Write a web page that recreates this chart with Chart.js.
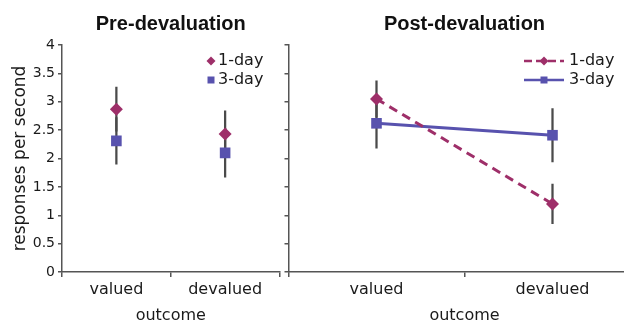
<!DOCTYPE html>
<html>
<head>
<meta charset="utf-8">
<script src="https://cdn.jsdelivr.net/npm/chart.js@4.4.0/dist/chart.umd.min.js"></script>
<style>
  html, body { margin: 0; padding: 0; background: #fff; }
  #wrap { position: relative; width: 624px; height: 324px; overflow: hidden; }
  #pre { position: absolute; left: 0; top: 0; }
  #post { position: absolute; left: 281px; top: 0; }
</style>
</head>
<body>
<div id="wrap">
  <canvas id="pre" width="287" height="324"></canvas>
  <canvas id="post" width="367" height="324"></canvas>
</div>
<script>
// Data
const categories = ['valued', 'devalued'];
const seriesNames = ['1-day', '3-day'];

const preOneDay = [2.87, 2.43];
const preOneDayErr = [0.39, 0.41];
const preThreeDay = [2.31, 2.10];
const preThreeDayErr = [0.41, 0.43];

const postOneDay = [3.05, 1.20];
const postOneDayErr = [0.32, 0.35];
const postThreeDay = [2.62, 2.41];
const postThreeDayErr = [0.44, 0.47];

const yMin = 0;
const yMax = 4;
const yStep = 0.5;

// Styling
const ONE_DAY = '#9e2f69';
const THREE_DAY = '#5852ae';
const AXIS = '#555555';
const ERR = '#4a4a4a';
const TEXT = '#1a1a1a';
const FONT = 'DejaVu Sans';

function errRange(values, errs) {
    return values.map((v, i) => [v - errs[i], v + errs[i]]);
}

function errorDataset(values, errs) {
    return {
        type: 'bar',
        data: errRange(values, errs),
        backgroundColor: ERR,
        borderWidth: 0,
        barThickness: 1.6,
        grouped: false,
        order: 3
    };
}

function seriesDataset(idx, values, showLine) {
    const oneDay = idx === 0;
    return {
        label: seriesNames[idx],
        data: values,
        borderColor: oneDay ? ONE_DAY : THREE_DAY,
        backgroundColor: oneDay ? ONE_DAY : THREE_DAY,
        borderWidth: 3,
        borderDash: oneDay ? [9, 6] : [],
        showLine: showLine,
        pointStyle: oneDay ? 'rectRot' : 'rect',
        pointRadius: oneDay ? 6.5 : 7.5,
        pointBorderWidth: 0,
        order: oneDay ? 1 : 2
    };
}

// small legend drawn in the top right of each panel
const panelLegend = {
    id: 'panelLegend',
    afterDraw(chart, args, opts) {
        const ctx = chart.ctx;
        const series = chart.data.datasets.filter(ds => ds.label);
        ctx.save();
        series.forEach((ds, i) => {
            const y = opts.y + i * opts.rowGap;
            if (opts.withLine) {
                ctx.beginPath();
                ctx.setLineDash(ds.borderDash.length ? [8, 4] : []);
                ctx.strokeStyle = ds.borderColor;
                ctx.lineWidth = 2.5;
                ctx.moveTo(opts.x - opts.lineHalf, y);
                ctx.lineTo(opts.x + opts.lineHalf, y);
                ctx.stroke();
                ctx.setLineDash([]);
            }
            ctx.fillStyle = ds.backgroundColor;
            ctx.beginPath();
            if (ds.pointStyle === 'rectRot') {
                const r = 4.5;
                ctx.moveTo(opts.x, y - r);
                ctx.lineTo(opts.x + r, y);
                ctx.lineTo(opts.x, y + r);
                ctx.lineTo(opts.x - r, y);
                ctx.closePath();
            } else {
                ctx.rect(opts.x - 3.5, y - 3.5, 7, 7);
            }
            ctx.fill();
            ctx.font = '16px "' + FONT + '"';
            ctx.fillStyle = TEXT;
            ctx.textBaseline = 'middle';
            ctx.textAlign = 'left';
            ctx.fillText(ds.label, opts.textX, y);
        });
        ctx.restore();
    }
};

function panelOptions(title, isLeft, legendOpts) {
    return {
        responsive: false,
        animation: false,
        layout: { padding: { left: 0, right: 2, top: 0, bottom: 0 } },
        plugins: {
            legend: { display: false },
            tooltip: { enabled: false },
            title: {
                display: true,
                text: title,
                fullSize: false,
                color: '#111',
                font: { family: 'Liberation Sans', size: 20, weight: 'bold', lineHeight: 1.2 },
                padding: { top: 12, bottom: 9 }
            },
            panelLegend: legendOpts
        },
        scales: {
            x: {
                type: 'category',
                offset: true,
                grid: { offset: true, drawOnChartArea: false, drawTicks: true, tickLength: 5, color: AXIS, lineWidth: 1.5 },
                border: { color: AXIS, width: 1.5 },
                ticks: { color: TEXT, font: { family: FONT, size: 16 }, padding: 3, maxRotation: 0 },
                title: {
                    display: true,
                    text: 'outcome',
                    color: TEXT,
                    font: { family: FONT, size: 16, lineHeight: 1 },
                    padding: { top: 0, bottom: 0 }
                },
                afterFit: scale => { scale.height = 52; }
            },
            y: {
                min: yMin,
                max: yMax,
                grid: { drawOnChartArea: false, drawTicks: true, tickLength: 4, color: AXIS, lineWidth: 1.5 },
                border: { color: AXIS, width: 1.5 },
                ticks: {
                    display: isLeft,
                    stepSize: yStep,
                    color: TEXT,
                    font: { family: FONT, size: 14 },
                    padding: 3,
                    callback: value => String(value)
                },
                title: {
                    display: isLeft,
                    text: 'responses per second',
                    color: TEXT,
                    font: { family: FONT, size: 17, lineHeight: 1 },
                    padding: { top: 12, bottom: 0 }
                },
                afterFit: scale => { scale.width = isLeft ? 62 : 4; }
            }
        }
    };
}

new Chart(document.getElementById('pre').getContext('2d'), {
    type: 'line',
    data: {
        labels: categories,
        datasets: [
            seriesDataset(0, preOneDay, false),
            seriesDataset(1, preThreeDay, false),
            errorDataset(preOneDay, preOneDayErr),
            errorDataset(preThreeDay, preThreeDayErr)
        ]
    },
    options: panelOptions('Pre-devaluation', true, { x: 211, y: 61, rowGap: 19, textX: 218, withLine: false }),
    plugins: [panelLegend]
});

new Chart(document.getElementById('post').getContext('2d'), {
    type: 'line',
    data: {
        labels: categories,
        datasets: [
            seriesDataset(0, postOneDay, true),
            seriesDataset(1, postThreeDay, true),
            errorDataset(postOneDay, postOneDayErr),
            errorDataset(postThreeDay, postThreeDayErr)
        ]
    },
    options: panelOptions('Post-devaluation', false, { x: 263, y: 61, rowGap: 19, textX: 288, withLine: true, lineHalf: 20 }),
    plugins: [panelLegend]
});
</script>
</body>
</html>
